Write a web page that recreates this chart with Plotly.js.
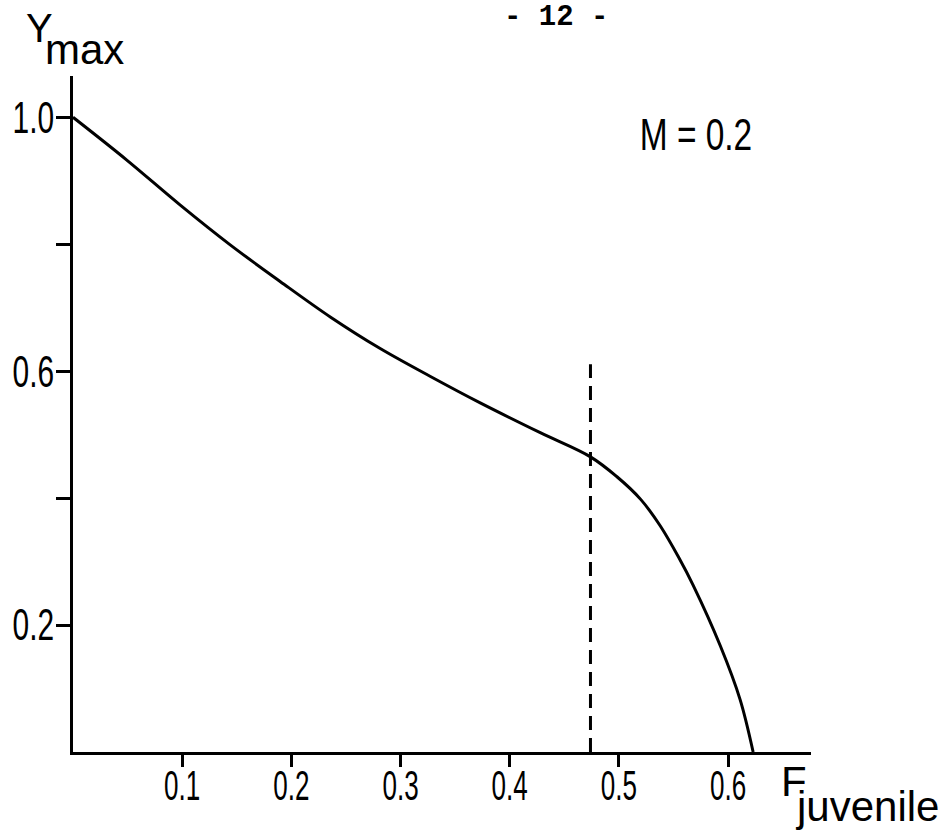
<!DOCTYPE html>
<html>
<head>
<meta charset="utf-8">
<script src="https://cdn.plot.ly/plotly-3.0.1.min.js"></script>
<style>html,body{margin:0;padding:0;background:#fff;}#chart{width:948px;height:830px;}</style>
</head>
<body>
<div id="chart"></div>
<script>
// Data
var fJuvenile = [0, 0.049, 0.098, 0.144, 0.190, 0.236, 0.281, 0.327, 0.373, 0.428, 0.474, 0.498, 0.520, 0.538, 0.555, 0.568, 0.593, 0.611, 0.623];
var yMax      = [1.0, 0.933, 0.862, 0.799, 0.741, 0.685, 0.636, 0.592, 0.550, 0.503, 0.465, 0.434, 0.398, 0.356, 0.306, 0.263, 0.167, 0.083, 0.0];
var dashX = [0.474, 0.474];
var dashY = [0, 0.611];
var xTickVals = [0.1, 0.2, 0.3, 0.4, 0.5, 0.6];
var xTickText = ["0.1", "0.2", "0.3", "0.4", "0.5", "0.6"];
var yTickVals = [0.2, 0.4, 0.6, 0.8, 1.0];
var yTickText = ["0.2", "", "0.6", "", "1.0"];

var W = 948, H = 830;
var L = 73, R = 137, T = 76, B = 78;
var pw = W - L - R, ph = H - T - B;
function px(x) { return (x - L) / pw; }
function py(y) { return (H - B - y) / ph; }

var sans = "Liberation Sans, Arial, sans-serif";

var traces = [
  {x: fJuvenile, y: yMax, mode: 'lines', line: {color: '#000', width: 3, shape: 'spline', smoothing: 1}, hoverinfo: 'skip'},
  {x: dashX, y: dashY, mode: 'lines', line: {color: '#000', width: 3, dash: '14px,8px'}, hoverinfo: 'skip'}
];

function ann(text, x, y, xa, ya, font, size) {
  return {text: text, xref: 'paper', yref: 'paper', x: px(x), y: py(y), xanchor: xa, yanchor: ya,
          showarrow: false, borderpad: 0, font: {family: font, size: size, color: '#000'}};
}

var layout = {
  width: W, height: H,
  margin: {l: L, r: R, t: T, b: B, pad: 0},
  paper_bgcolor: '#fff', plot_bgcolor: '#fff',
  showlegend: false,
  xaxis: {range: [0, 0.676], showgrid: false, zeroline: false, showline: true, linewidth: 3, linecolor: '#000',
          ticks: 'outside', ticklen: 12, tickwidth: 3, tickcolor: '#000', ticklabelstandoff: -17,
          tickvals: xTickVals, ticktext: xTickText, tickfont: {family: sans, size: 42, color: '#000'}, fixedrange: true},
  yaxis: {range: [0, 1.065], showgrid: false, zeroline: false, showline: true, linewidth: 3, linecolor: '#000',
          ticks: 'outside', ticklen: 14, tickwidth: 3, tickcolor: '#000', ticklabelstandoff: -7,
          tickvals: yTickVals, ticktext: yTickText, tickfont: {family: sans, size: 44, color: '#000'}, fixedrange: true},
  annotations: [
    ann('<b>- 12 -</b>', 556, 0, 'center', 'top', 'Liberation Mono, DejaVu Sans Mono, monospace', 29),
    ann('M = 0.2', 696, 134, 'center', 'middle', sans, 44),
    ann('Y', 39, 28, 'center', 'middle', sans, 40),
    ann('max', 44, 49, 'left', 'middle', sans, 42),
    ann('F', 780, 781, 'left', 'middle', sans, 42),
    ann('juvenile', 794, 806, 'left', 'middle', sans, 42)
  ]
};

function narrowEl(t, factor) {
  var w = t.getComputedTextLength();
  if (w > 0) {
    t.setAttribute('textLength', (w * factor).toFixed(1));
    t.setAttribute('lengthAdjust', 'spacingAndGlyphs');
  }
}
function narrow(sel, factor) {
  document.querySelectorAll(sel).forEach(function (t) { narrowEl(t, factor); });
}

Plotly.newPlot('chart', traces, layout, {staticPlot: true, displayModeBar: false}).then(function () {
  narrow('#chart .ytick text', 0.68);
  narrow('#chart .xtick text', 0.62);
  var anns = document.querySelectorAll('#chart .annotation-text');
  anns.forEach(function (t) { if (t.textContent === 'M = 0.2') narrowEl(t, 0.76); });
});
</script>
</body>
</html>
